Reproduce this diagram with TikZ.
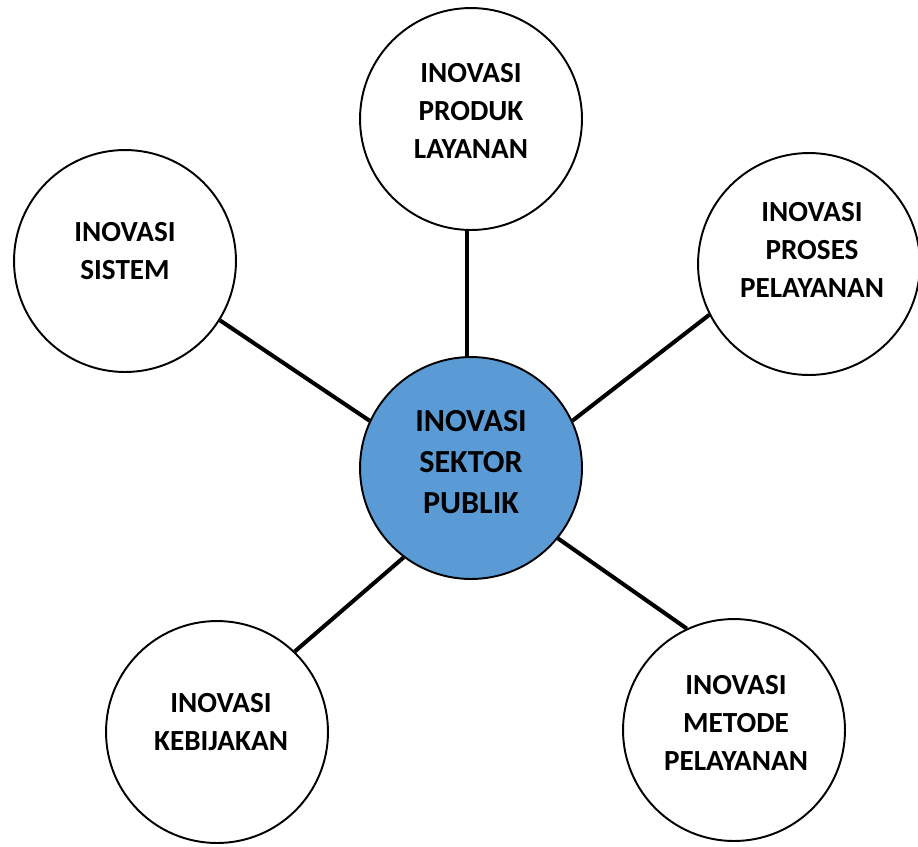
\documentclass[tikz,border=0pt]{standalone}
\usepackage{fontspec}
\setmainfont{Carlito}
\definecolor{pusatblue}{HTML}{5B9BD5}
\begin{document}
\begin{tikzpicture}[x=0.02cm,y=-0.02cm]

      \useasboundingbox (0,0) rectangle (918,846);

      \begin{scope}[every node/.style={circle,draw,line width=1.1pt,minimum size=4.44cm,inner sep=0pt}]
        \node[fill=pusatblue] (pusat) at (471,468) {};
        \node (produk)    at (471,119) {};
        \node (proses)    at (809,264) {};
        \node (metode)    at (734,730) {};
        \node (kebijakan) at (217,732) {};
        \node (sistem)    at (125,261) {};
      \end{scope}

      \begin{scope}[every edge/.style={draw,line width=2.3pt}]
        \path (produk.268)    edge (pusat.92);
        \path (proses.207)    edge (pusat.25);
        \path (metode.115)    edge (pusat.-39);
        \path (kebijakan.46)  edge (pusat.233);
        \path (sistem.-32)    edge (pusat.155);
      \end{scope}

      \begin{scope}[every node/.style={align=center,font=\bfseries\fontsize{16.6}{21.8}\selectfont}]
        \node[font=\bfseries\fontsize{18.3}{23.5}\selectfont] (pusat-teks) at (471,462) {INOVASI\\SEKTOR\\PUBLIK};
        \node (produk-teks)    at (471,111) {INOVASI\\PRODUK\\LAYANAN};
        \node (proses-teks)    at (812,250) {INOVASI\\PROSES\\PELAYANAN};
        \node (metode-teks)    at (736,723) {INOVASI\\METODE\\PELAYANAN};
        \node (kebijakan-teks) at (221,722) {INOVASI\\KEBIJAKAN};
        \node (sistem-teks)    at (125,251) {INOVASI\\SISTEM};
      \end{scope}

    \end{tikzpicture}
\end{document}
